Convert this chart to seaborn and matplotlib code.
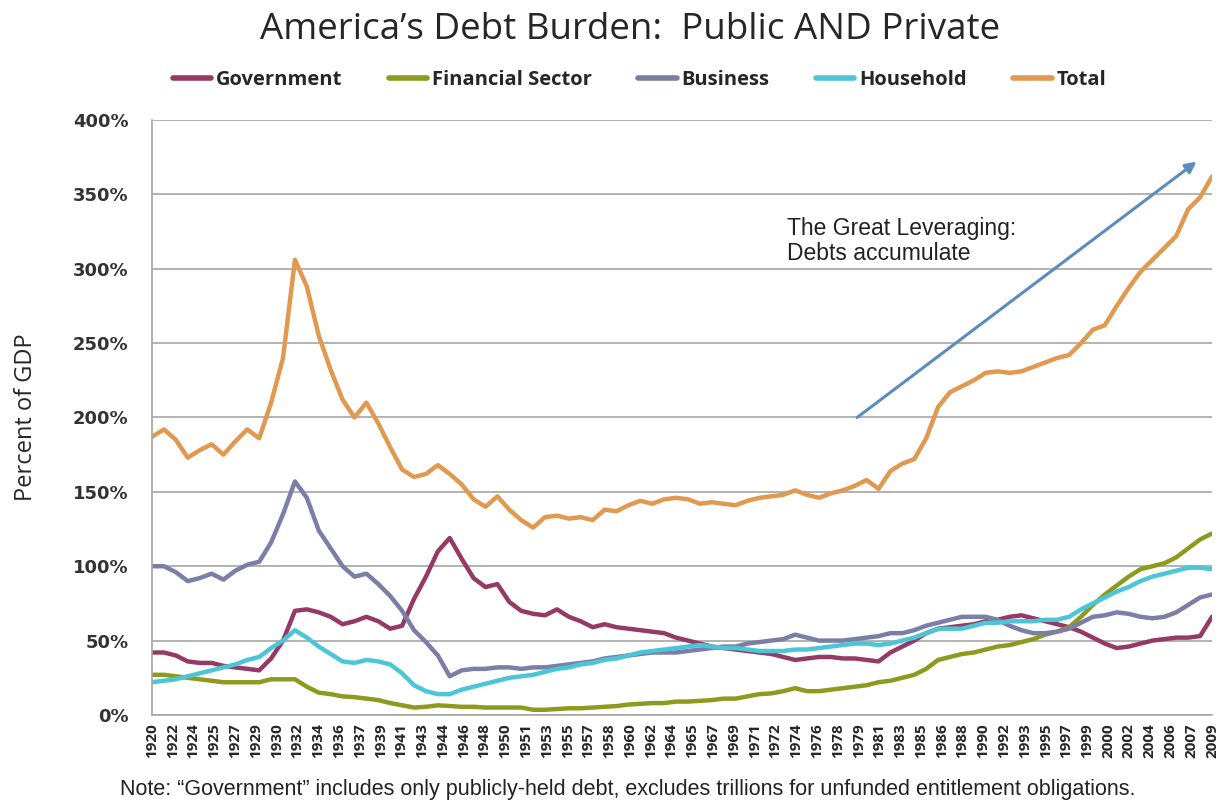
import numpy as np
import pandas as pd
import matplotlib
matplotlib.use("Agg")
import matplotlib.pyplot as plt
import seaborn as sns

# Debt as percent of GDP, annual, 1920-2009
years = list(range(1920, 2010))

government = [42, 42, 40, 36, 35, 35, 33, 32, 31, 30,
              38, 50, 70, 71, 69, 66, 61, 63, 66, 63,
              58, 60, 78, 93, 110, 119, 105, 92, 86, 88,
              76, 70, 68, 67, 71, 66, 63, 59, 61, 59,
              58, 57, 56, 55, 52, 50, 48, 46, 45, 44,
              43, 42, 41, 39, 37, 38, 39, 39, 38, 38,
              37, 36, 42, 46, 50, 55, 58, 59, 60, 61,
              63, 64, 66, 67, 65, 63, 61, 59, 56, 52,
              48, 45, 46, 48, 50, 51, 52, 52, 53, 66]

financial = [27, 27, 26, 25, 24, 23, 22, 22, 22, 22,
             24, 24, 24, 19, 15, 14, 12.5, 12, 11, 10,
             8, 6.5, 5, 5.5, 6.5, 6, 5.5, 5.5, 5, 5,
             5, 5, 3.5, 3.5, 4, 4.5, 4.5, 5, 5.5, 6,
             7, 7.5, 8, 8, 9, 9, 9.5, 10, 11, 11,
             12.5, 14, 14.5, 16, 18, 16, 16, 17, 18, 19,
             20, 22, 23, 25, 27, 31, 37, 39, 41, 42,
             44, 46, 47, 49, 51, 54, 56, 59, 66, 74,
             81, 87, 93, 98, 100, 102, 106, 112, 118, 122]

business = [100, 100, 96, 90, 92, 95, 91, 97, 101, 103,
            116, 135, 157, 146, 124, 112, 100, 93, 95, 88,
            80, 70, 57, 49, 40, 26, 30, 31, 31, 32,
            32, 31, 32, 32, 33, 34, 35, 36, 38, 39,
            40, 41, 42, 42, 42, 43, 44, 45, 46, 46,
            48, 49, 50, 51, 54, 52, 50, 50, 50, 51,
            52, 53, 55, 55, 57, 60, 62, 64, 66, 66,
            66, 64, 60, 57, 55, 55, 56, 58, 62, 66,
            67, 69, 68, 66, 65, 66, 69, 74, 79, 81]

household = [22, 23, 24, 26, 28, 30, 32, 34, 37, 39,
             45, 50, 57, 52, 46, 41, 36, 35, 37, 36,
             34, 28, 20, 16, 14, 14, 17, 19, 21, 23,
             25, 26, 27, 29, 31, 32, 34, 35, 37, 38,
             40, 42, 43, 44, 45, 46, 47, 46, 45, 45,
             44, 43, 43, 43, 44, 44, 45, 46, 47, 48,
             48, 47, 48, 50, 52, 55, 58, 58, 58, 60,
             62, 62, 63, 63, 63, 64, 64, 66, 71, 75,
             79, 83, 86, 90, 93, 95, 97, 99, 99, 98]

total = [187, 192, 185, 173, 178, 182, 175, 184, 192, 186,
         210, 240, 306, 288, 255, 232, 212, 200, 210, 196,
         180, 165, 160, 162, 168, 162, 155, 145, 140, 147,
         138, 131, 126, 133, 134, 132, 133, 131, 138, 137,
         141, 144, 142, 145, 146, 145, 142, 143, 142, 141,
         144, 146, 147, 148, 151, 148, 146, 149, 151, 154,
         158, 152, 164, 169, 172, 186, 207, 217, 221, 225,
         230, 231, 230, 231, 234, 237, 240, 242, 250, 259,
         262, 275, 287, 298, 306, 314, 322, 340, 348, 362]

series_names = ["Government", "Financial Sector", "Business", "Household", "Total"]
series_values = [government, financial, business, household, total]
series_colors = ["#953A66", "#8E9A1E", "#7B7EA6", "#4CC6D6", "#E0994F"]

tick_labels = ["1920", "1922", "1924", "1925", "1927", "1929", "1930", "1932",
               "1934", "1936", "1937", "1939", "1941", "1943", "1944", "1946",
               "1948", "1950", "1951", "1953", "1955", "1957", "1958", "1960",
               "1962", "1964", "1965", "1967", "1969", "1971", "1972", "1974",
               "1976", "1978", "1979", "1981", "1983", "1985", "1986", "1988",
               "1990", "1992", "1993", "1995", "1997", "1999", "2000", "2002",
               "2004", "2006", "2007", "2009"]

y_ticks = [0, 50, 100, 150, 200, 250, 300, 350, 400]

df = pd.concat(
    [pd.DataFrame({"Year": years, "Debt": vals, "Sector": name})
     for name, vals in zip(series_names, series_values)],
    ignore_index=True,
)

sns.set_theme(style="white")
plt.rcParams["font.family"] = ["Open Sans", "DejaVu Sans"]

fig = plt.figure(figsize=(12.23, 8.01), dpi=100)
ax = fig.add_axes([0.1243, 0.1074, 0.8667, 0.7428])

sns.lineplot(data=df, x="Year", y="Debt", hue="Sector",
             palette=dict(zip(series_names, series_colors)),
             hue_order=series_names, linewidth=3.2, ax=ax, legend=False)

ax.set_xlim(years[0], years[-1])
ax.set_ylim(0, 400)
ax.set_yticks(y_ticks)
ax.set_yticklabels([f"{v}%" for v in y_ticks], fontsize=13, fontweight="bold",
                   family="DejaVu Sans", color="#333333")
ax.set_xticks(np.linspace(years[0], years[-1], len(tick_labels)))
ax.set_xticklabels(tick_labels, rotation=90, fontsize=11, fontweight="bold")
ax.tick_params(axis="y", length=0, pad=17)
ax.tick_params(axis="x", length=0, pad=6)
ax.grid(axis="y", color="#A6A6A6", linewidth=1.2)
ax.set_axisbelow(True)
for side in ["top", "right"]:
    ax.spines[side].set_visible(False)
for side in ["left", "bottom"]:
    ax.spines[side].set_color("#A6A6A6")
    ax.spines[side].set_linewidth(1.2)

ax.set_xlabel("")
ax.set_ylabel("Percent of GDP", fontsize=17)
ax.yaxis.set_label_coords(-0.108, 0.5)

# Legend along the top
handles = [plt.Line2D([], [], color=c, linewidth=4) for c in series_colors]
fig.legend(handles, series_names, loc="center", bbox_to_anchor=(0.523, 0.900),
           ncol=5, frameon=False, handlelength=1.9, handletextpad=0.25,
           columnspacing=2.3, prop={"family": "Open Sans", "weight": "bold", "size": 14.5})

fig.text(0.515, 0.962, "America\u2019s Debt Burden:  Public AND Private",
         ha="center", va="center", fontsize=26.5)

ax.annotate("", xy=(2007.7, 372), xytext=(1979.2, 200),
            arrowprops=dict(arrowstyle="-|>", color="#5B8CBE", lw=2.2,
                            mutation_scale=16, shrinkA=0, shrinkB=0))
ax.text(1973.3, 335, "The Great Leveraging:\nDebts accumulate", ha="left", va="top",
        fontsize=16.5, family="Liberation Sans", color="#222222", linespacing=1.15)

fig.text(0.513, 0.014,
         "Note: \u201cGovernment\u201d includes only publicly-held debt, excludes trillions for unfunded entitlement obligations.",
         ha="center", va="center", fontsize=15.5, family="Liberation Sans", color="#222222")

fig.savefig("out.png", dpi=100)
